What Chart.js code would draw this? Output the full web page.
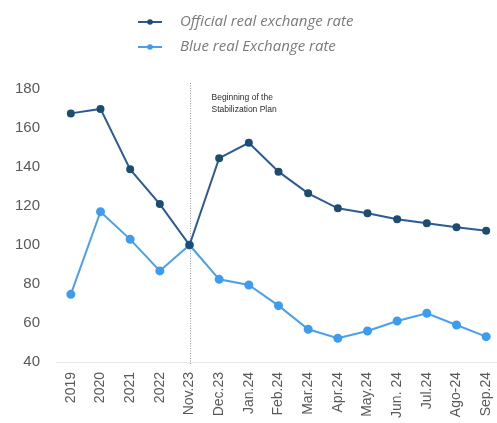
<!DOCTYPE html>
<html>
<head>
<meta charset="utf-8">
<script src="https://cdn.jsdelivr.net/npm/chart.js@4.4.1/dist/chart.umd.min.js"></script>
<style>
  html, body { margin: 0; padding: 0; background: #ffffff; overflow: hidden; }
  #wrap { position: relative; width: 497px; height: 423px; overflow: hidden; }
</style>
</head>
<body>
<div id="wrap"><canvas id="chart" width="507" height="423"></canvas></div>
<script>
// Real exchange rate index, Nov.23 = 100
const categories = ['2019', '2020', '2021', '2022', 'Nov.23', 'Dec.23', 'Jan.24', 'Feb.24',
  'Mar.24', 'Apr.24', 'May.24', 'Jun. 24', 'Jul.24', 'Ago-24', 'Sep.24'];
const officialRate = [167.5, 169.8, 138.8, 121.0, 100, 144.5, 152.4, 137.6,
  126.5, 118.8, 116.3, 113.2, 111.1, 109.1, 107.3];
const blueRate = [74.7, 117.1, 102.9, 86.7, 100, 82.4, 79.5, 68.9,
  56.8, 52.2, 55.9, 61.0, 65.0, 59.0, 53.0];
const seriesNames = ['Official real exchange rate', 'Blue real Exchange rate'];
const yMin = 40, yMax = 180, yStep = 20;
const markerCategory = 'Nov.23';
const markerNote = ['Beginning of the', 'Stabilization Plan'];

const OFFICIAL_LINE = '#2d5a96';
const OFFICIAL_POINT = '#1d4d6e';
const BLUE_LINE = '#4aa0ea';
const BLUE_POINT = '#3c9cf0';

// Dotted vertical marker with its note
const markerPlugin = {
  id: 'markerLine',
  beforeDatasetsDraw(chart) {
    const { ctx, chartArea, scales } = chart;
    const x = Math.round(scales.x.getPixelForValue(categories.indexOf(markerCategory))) + 0.5;
    ctx.save();
    ctx.strokeStyle = '#9a9a9a';
    ctx.lineWidth = 1;
    ctx.setLineDash([1, 1.5]);
    ctx.beginPath();
    ctx.moveTo(x, chartArea.top - 6);
    ctx.lineTo(x, chartArea.bottom + 3);
    ctx.stroke();
    ctx.setLineDash([]);
    ctx.fillStyle = '#2b2b2b';
    ctx.font = '8.5px "Liberation Sans", Arial, sans-serif';
    ctx.textBaseline = 'middle';
    ctx.textAlign = 'left';
    markerNote.forEach((t, i) => ctx.fillText(t, x + 21, chartArea.top + 8.5 + i * 12));
    ctx.restore();
  }
};

// Stacked legend above the plot
const stackedLegend = {
  id: 'stackedLegend',
  afterDraw(chart) {
    const { ctx } = chart;
    ctx.save();
    chart.data.datasets.forEach((ds, i) => {
      const y = 22 + i * 25;
      ctx.strokeStyle = ds.borderColor;
      ctx.lineWidth = 2;
      ctx.beginPath();
      ctx.moveTo(138, y);
      ctx.lineTo(162, y);
      ctx.stroke();
      ctx.fillStyle = ds.pointBackgroundColor;
      ctx.beginPath();
      ctx.arc(150, y, 2.8, 0, Math.PI * 2);
      ctx.fill();
      ctx.fillStyle = '#7a7a7a';
      ctx.font = 'italic 15px "Open Sans", Lato, sans-serif';
      ctx.textBaseline = 'middle';
      ctx.textAlign = 'left';
      ctx.fillText(ds.label, 180, y);
    });
    ctx.restore();
  }
};

new Chart(document.getElementById('chart'), {
  type: 'line',
  data: {
    labels: categories,
    datasets: [
      {
        label: seriesNames[0],
        data: officialRate,
        borderColor: OFFICIAL_LINE,
        backgroundColor: OFFICIAL_POINT,
        pointBackgroundColor: OFFICIAL_POINT,
        pointBorderColor: OFFICIAL_POINT,
        borderWidth: 2,
        pointRadius: 3,
        tension: 0
      },
      {
        label: seriesNames[1],
        data: blueRate,
        borderColor: BLUE_LINE,
        backgroundColor: BLUE_POINT,
        pointBackgroundColor: BLUE_POINT,
        pointBorderColor: BLUE_POINT,
        borderWidth: 2,
        pointRadius: 3.5,
        tension: 0
      }
    ]
  },
  options: {
    responsive: false,
    animation: false,
    layout: { padding: { top: 89, right: 0, left: 0, bottom: 0 } },
    plugins: {
      legend: { display: false },
      tooltip: { enabled: false }
    },
    scales: {
      x: {
        offset: true,
        grid: { display: false, drawTicks: false },
        border: { display: true, color: '#e6e6e6', width: 1 },
        ticks: {
          color: '#595959',
          font: { family: '"Liberation Sans", Arial, sans-serif', size: 14 },
          minRotation: 90,
          maxRotation: 90,
          autoSkip: false,
          padding: 10
        },
        afterFit(scale) {
          scale.height = 61;
          scale.paddingLeft = 0;
          scale.paddingRight = 0;
        }
      },
      y: {
        min: yMin,
        max: yMax,
        grid: { display: false, drawTicks: false },
        border: { display: false },
        ticks: {
          stepSize: yStep,
          color: '#595959',
          font: { family: '"Liberation Sans", Arial, sans-serif', size: 15 },
          padding: 16
        },
        afterFit(scale) { scale.width = 56; }
      }
    }
  },
  plugins: [markerPlugin, stackedLegend]
});
</script>
</body>
</html>
